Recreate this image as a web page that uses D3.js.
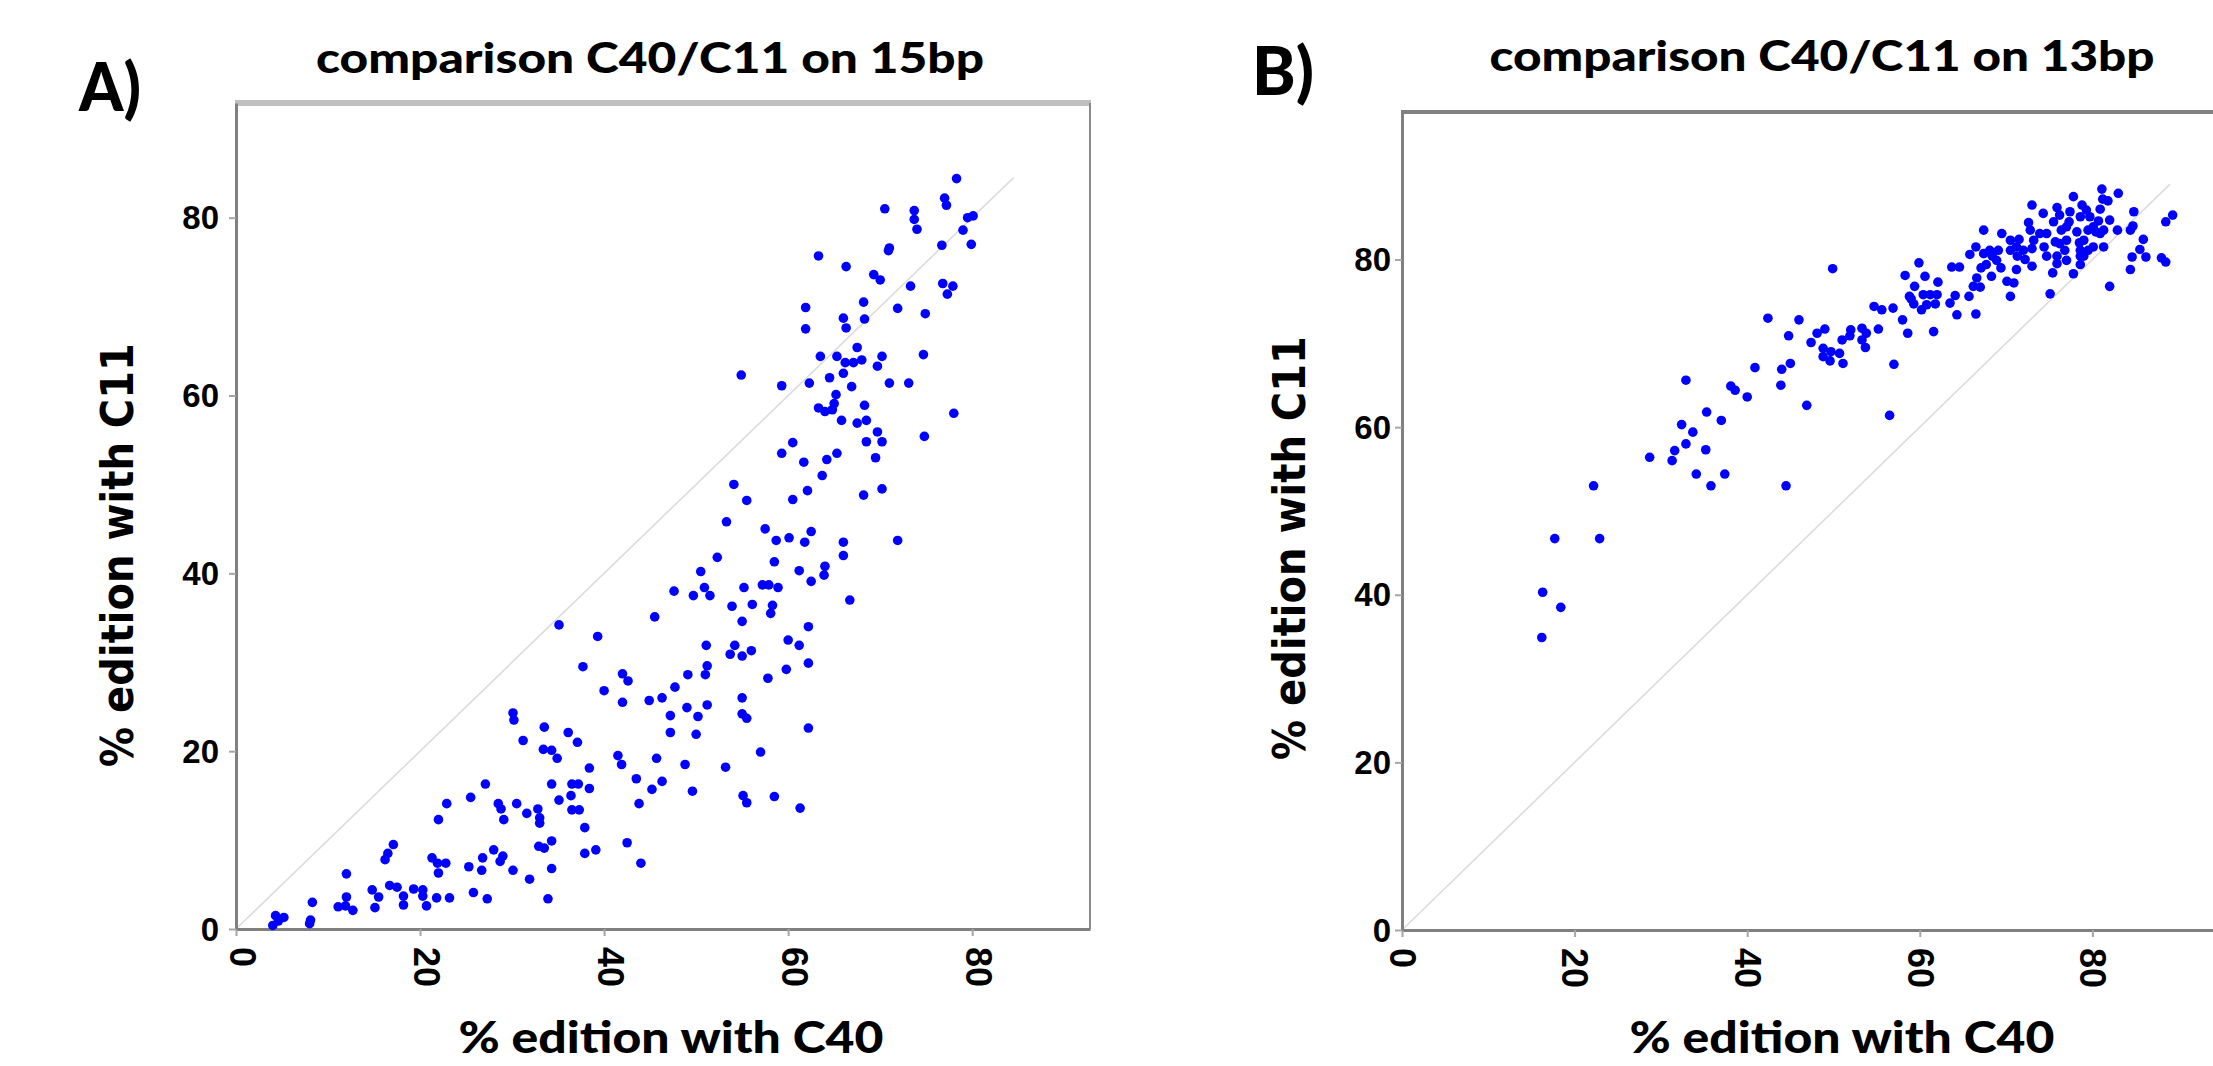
<!DOCTYPE html>
<html>
<head>
<meta charset="utf-8">
<script src="https://cdn.jsdelivr.net/npm/d3@7"></script>
<style>
    body { margin: 0; background: #ffffff; }
</style>
</head>
<body>
<svg id="figure"></svg>
<script>

// Tick values shared by both panels
const xTicks = [0, 20, 40, 60, 80];
const yTicks = [0, 20, 40, 60, 80];

// Text
const titleA = "comparison C40/C11 on 15bp";
const titleB = "comparison C40/C11 on 13bp";
const xTitle = "% edition with C40";
const yTitle = "% edition with C11";

// End of the grey y = x reference line in each panel
const diagA = [0, 84.5];
const diagB = [0, 89];

// Panel A points: [% edition with C40, % edition with C11]
const pointsA = [
    [4.0, 0.4], [4.3, 1.5], [5.2, 1.3], [4.6, 0.9], [8.1, 1.0], [8.3, 3.0], [8.0, 0.6],
    [11.1, 2.5], [12.0, 3.6], [12.0, 6.2], [12.7, 2.1], [11.9, 2.6],
    [14.8, 4.4], [15.1, 2.4], [15.5, 3.6], [16.2, 7.8], [16.5, 8.5], [17.1, 9.5], [16.7, 4.9],
    [17.5, 4.7], [18.2, 3.7], [18.2, 2.7], [19.3, 4.5], [20.3, 4.4], [20.3, 3.7], [20.7, 2.6],
    [21.3, 8.0], [21.9, 7.4], [22.0, 6.3], [22.8, 7.4], [21.8, 3.5], [23.2, 3.5], [22.0, 12.3], [22.9, 14.1],
    [25.3, 7.0], [25.8, 4.1], [25.5, 14.8], [26.7, 6.6], [26.8, 8.0], [27.1, 16.3], [27.3, 3.4],
    [28.0, 8.9], [28.5, 14.1], [28.8, 13.5], [28.7, 7.6], [29.0, 8.2], [29.1, 12.3],
    [30.1, 6.6], [30.1, 24.3], [30.2, 23.5], [30.5, 14.1], [31.2, 21.2], [31.6, 13.0], [31.9, 5.6],
    [32.8, 13.5], [33.0, 12.5], [33.0, 11.9], [32.9, 9.3], [33.5, 22.7], [33.4, 20.2], [33.5, 9.1],
    [33.9, 3.4], [34.3, 20.1], [34.3, 9.9], [34.3, 6.8], [34.3, 16.3], [34.9, 19.2], [35.1, 34.2], [35.1, 14.5],
    [36.1, 22.1], [36.4, 15.0], [36.5, 13.4], [36.5, 16.3], [37.1, 21.0], [37.2, 16.3], [37.3, 13.4],
    [37.7, 29.5], [37.9, 11.4], [37.9, 8.5], [38.4, 18.1], [38.4, 15.8], [39.1, 8.9], [39.3, 32.9],
    [40.0, 26.8], [41.5, 19.5], [41.9, 18.5], [42.0, 28.7], [42.0, 25.5], [42.6, 27.9], [42.5, 9.7],
    [43.5, 16.9], [43.8, 14.1], [44.0, 7.4], [44.9, 25.7], [45.2, 15.7], [45.5, 35.1], [45.7, 19.2],
    [46.3, 26.0], [46.3, 16.6], [47.2, 24.0], [47.2, 22.1], [47.6, 38.0], [47.7, 27.2], [48.8, 18.5],
    [49.0, 24.9], [49.1, 28.6], [49.6, 15.5], [49.7, 37.5],
    [50.0, 21.9], [50.2, 23.9], [50.5, 40.2], [50.9, 38.4], [51.0, 28.6], [51.2, 29.6], [51.1, 31.9],
    [51.2, 25.2], [51.5, 37.5], [52.3, 41.8], [53.2, 18.2], [53.3, 45.8], [53.7, 30.9], [53.9, 36.3], [54.2, 31.9],
    [55.0, 26.0], [55.0, 34.6], [55.0, 30.7], [55.0, 24.2], [55.2, 38.4], [55.1, 15.0], [55.5, 14.2],
    [55.5, 23.7], [56.0, 31.3], [56.1, 36.5], [57.0, 19.9], [57.2, 38.7], [57.5, 45.0], [57.9, 38.7],
    [57.8, 28.2], [58.1, 35.5], [58.3, 36.4], [58.5, 41.3], [58.5, 14.9], [58.7, 43.7], [58.9, 38.4], [59.8, 29.2],
    [60.0, 32.5], [60.1, 44.0], [61.2, 31.9], [61.2, 40.3], [61.3, 13.6], [61.8, 43.5], [62.2, 34.0],
    [62.2, 29.9], [62.2, 22.6], [62.5, 44.7], [62.5, 39.1], [63.9, 39.8], [64.0, 40.8], [66.0, 43.5],
    [66.0, 42.0], [66.7, 37.0], [71.9, 43.7],
    [78.3, 84.4], [77.0, 82.2], [77.2, 81.4], [70.5, 81.0], [73.7, 80.8], [73.7, 79.8], [74.0, 78.7],
    [79.5, 80.0], [80.1, 80.2], [79.0, 78.6], [79.9, 77.0], [76.7, 76.9], [70.9, 76.3], [71.0, 76.6],
    [63.3, 75.7], [66.3, 74.5], [69.3, 73.6], [70.0, 73.0], [73.3, 72.3], [76.8, 72.6], [77.9, 72.3],
    [77.3, 71.4], [68.2, 70.5], [71.9, 69.8], [61.9, 69.9], [74.9, 69.2], [66.0, 68.7], [68.3, 68.6],
    [66.3, 67.6], [61.9, 67.5], [67.5, 65.4], [63.5, 64.4], [65.3, 64.4], [68.0, 64.0], [70.2, 64.4],
    [74.7, 64.6], [66.2, 63.7], [67.1, 63.7], [69.7, 63.3], [66.0, 62.5], [54.9, 62.3], [64.5, 62.0],
    [59.3, 61.1], [62.3, 61.4], [66.9, 61.0], [71.0, 61.4], [73.1, 61.4],
    [65.2, 60.1], [65.0, 59.1], [63.3, 58.6], [64.0, 58.2], [64.8, 58.4], [68.3, 58.9], [78.0, 58.0],
    [65.8, 57.2], [67.5, 56.9], [68.5, 57.2], [69.7, 55.9], [60.5, 54.7], [68.5, 54.8], [70.2, 54.8],
    [74.8, 55.4], [59.3, 53.5], [61.7, 52.5], [64.2, 52.8], [65.3, 53.5], [69.5, 53.0], [63.7, 51.0],
    [54.1, 50.0], [55.5, 48.2], [60.5, 48.3], [62.1, 49.3], [68.2, 48.8], [70.2, 49.5]
];

// Panel B points: [% edition with C40, % edition with C11]
const pointsB = [
    [17.7, 46.7], [22.9, 46.7], [16.3, 40.3], [18.4, 38.5], [16.2, 34.9],
    [22.2, 53.0], [28.7, 56.4], [31.3, 56.0], [31.6, 57.2], [32.9, 58.0], [32.4, 60.3], [33.7, 59.4],
    [35.2, 57.3], [34.1, 54.4], [35.8, 53.0], [37.4, 54.4], [35.3, 61.8], [37.0, 60.8], [32.9, 65.6],
    [38.1, 64.9], [38.6, 64.4], [40.0, 63.6], [40.9, 67.1], [42.4, 73.0], [46.0, 72.8], [44.8, 70.9],
    [44.0, 66.9], [45.0, 67.6], [43.9, 65.0], [46.9, 62.6], [44.5, 53.0], [47.4, 70.1], [48.1, 71.2],
    [49.0, 71.7], [48.8, 69.4], [48.8, 68.4], [49.7, 69.0], [49.6, 67.9], [50.7, 68.8], [51.1, 67.6],
    [51.0, 70.4], [52.0, 71.6], [51.9, 70.9], [53.3, 71.8], [53.8, 71.2], [53.3, 70.4], [53.7, 69.5],
    [55.2, 71.7], [54.7, 74.4], [55.6, 74.0], [56.9, 74.2], [58.0, 72.8], [58.6, 71.2], [57.0, 67.5],
    [56.5, 61.4], [61.6, 71.4], [60.2, 74.0], [61.8, 74.7], [63.5, 74.8], [64.3, 73.4], [59.0, 75.3],
    [60.8, 74.6], [49.9, 78.9],
    [58.8, 75.6], [59.3, 74.7], [60.4, 75.8], [61.2, 75.8], [62.0, 75.8], [59.4, 76.8], [60.6, 78.0],
    [62.1, 77.3], [58.3, 78.1], [59.9, 79.6], [63.7, 79.1], [64.6, 79.1], [64.1, 75.7], [66.5, 73.5],
    [65.7, 75.6], [66.2, 76.8], [67.0, 76.7], [66.6, 77.8], [67.1, 79.0], [67.7, 79.4], [68.3, 78.0],
    [68.4, 80.4], [67.4, 80.7], [65.8, 80.6], [66.5, 81.5], [67.4, 83.5], [69.5, 83.1], [69.4, 79.0],
    [70.5, 75.6], [70.1, 77.4], [70.9, 77.2], [70.5, 81.1], [71.2, 78.8], [70.5, 82.3], [71.5, 82.4],
    [71.3, 80.4], [72.0, 81.1], [72.2, 80.0], [73.0, 79.2], [73.0, 81.3], [72.8, 83.5], [72.6, 84.4],
    [73.0, 86.5], [74.3, 85.5], [73.9, 83.1], [74.4, 81.5], [74.7, 80.4], [75.1, 75.9], [75.4, 78.4],
    [75.9, 79.5], [75.7, 82.1], [75.5, 84.5], [75.9, 86.2], [76.2, 85.3], [76.4, 83.5], [77.0, 82.3],
    [76.8, 81.1], [77.0, 79.9], [77.3, 84.5], [77.8, 78.3], [77.8, 87.5], [77.4, 85.7], [78.2, 83.3],
    [78.5, 82.0], [78.6, 80.4], [78.6, 79.4], [79.0, 80.4], [79.3, 85.9], [79.7, 85.1], [78.8, 86.5],
    [79.5, 83.5], [80.1, 81.5], [80.4, 83.3], [80.7, 84.6], [80.9, 86.0], [81.2, 87.2], [81.1, 88.4],
    [81.8, 87.0], [82.0, 84.7], [81.3, 83.5], [81.3, 81.5], [83.0, 87.9], [82.9, 83.5], [84.8, 85.7],
    [84.7, 84.0], [85.9, 82.4], [84.4, 83.5], [85.5, 81.2], [84.6, 80.3], [86.2, 80.3], [84.4, 78.8],
    [82.0, 76.8], [88.0, 80.2], [88.5, 79.7], [88.5, 84.5], [89.3, 85.3],
    [74.7, 83.1], [76.2, 81.9], [79.0, 82.3], [80.1, 83.9], [77.0, 83.9], [78.6, 85.1], [75.9, 80.4],
    [73.2, 82.3], [71.2, 81.5], [69.1, 81.1], [68.1, 81.1], [68.9, 79.9], [78.6, 81.1], [80.9, 83.1],
    [79.5, 81.1]
];

// Page layout of each panel (pixels)
const panelA = {
    left: 236, right: 1090, top: 103, bottom: 929, xMax: 92.8, yMax: 92.9,
    topColor: "#c0c0c0", topWidth: 6, rightBorder: true,
    yLabelGap: 17, xLabelShift: 6,
    titleX: 650, titleY: 73, titleLen: 668,
    tagText: "A)", tagX: 79, tagY: 111,
    xTitleX: 671, xTitleY: 1053,
    yTitleX: 133, yTitleY: 555
};
const panelB = {
    left: 1402, right: 2265, top: 112, bottom: 930, xMax: 100, yMax: 97.6,
    topColor: "#808080", topWidth: 4, rightBorder: false,
    yLabelGap: 11, xLabelShift: 0,
    titleX: 1822, titleY: 71, titleLen: 665,
    tagText: "B)", tagX: 1252, tagY: 95,
    xTitleX: 1842, xTitleY: 1053,
    yTitleX: 1305, yTitleY: 548
};

const width = 2213;
const height = 1066;
const titleFont = "Lato, 'Open Sans', sans-serif";
const tickFont = "'Liberation Sans', Arial, sans-serif";

const svg = d3.select("#figure")
    .attr("width", width)
    .attr("height", height);

svg.append("rect")
    .attr("width", width)
    .attr("height", height)
    .attr("fill", "#ffffff");

/**
 * drawPanel
 *
 * Draws one scatter panel: frame, axes, y = x line, points and texts.
 * @param p layout object of the panel
 * @param points array of [x, y] pairs
 * @param diag [start, end] of the reference line
 * @param title chart title
 */
function drawPanel(p, points, diag, title) {

    let x = d3.scaleLinear()
        .domain([0, p.xMax])
        .range([p.left, p.right]);

    let y = d3.scaleLinear()
        .domain([0, p.yMax])
        .range([p.bottom, p.top]);

    let g = svg.append("g");

    // Top border (and right border for panel A)
    g.append("line")
        .attr("x1", p.left - 1)
        .attr("x2", p.right + 1)
        .attr("y1", p.top)
        .attr("y2", p.top)
        .attr("stroke", p.topColor)
        .attr("stroke-width", p.topWidth);

    if (p.rightBorder) {
        g.append("line")
            .attr("x1", p.right)
            .attr("x2", p.right)
            .attr("y1", p.top)
            .attr("y2", p.bottom)
            .attr("stroke", "#8a8a8a")
            .attr("stroke-width", 2);
    }

    // y = x reference line
    g.append("line")
        .attr("x1", x(diag[0]))
        .attr("y1", y(diag[0]))
        .attr("x2", x(diag[1]))
        .attr("y2", y(diag[1]))
        .attr("stroke", "#dcdcdc")
        .attr("stroke-width", 1.6);

    // x axis
    let xAxis = g.append("g")
        .attr("transform", `translate(0, ${p.bottom})`)
        .call(d3.axisBottom(x).tickValues(xTicks).tickSize(7).tickSizeOuter(0));
    xAxis.select(".domain")
        .attr("stroke", "#808080")
        .attr("stroke-width", 3);
    xAxis.selectAll(".tick line")
        .attr("stroke", "#a6a6a6")
        .attr("stroke-width", 2);
    xAxis.selectAll(".tick text")
        .attr("transform", "rotate(90)")
        .attr("x", 18)
        .attr("y", -p.xLabelShift)
        .attr("dy", "0.35em")
        .attr("text-anchor", "start")
        .attr("fill", "#000")
        .style("font-family", tickFont)
        .style("font-weight", "bold")
        .style("font-size", "36px");

    // y axis
    let yAxis = g.append("g")
        .attr("transform", `translate(${p.left}, 0)`)
        .call(d3.axisLeft(y).tickValues(yTicks).tickSize(7).tickSizeOuter(0));
    yAxis.select(".domain")
        .attr("stroke", "#808080")
        .attr("stroke-width", 3);
    yAxis.selectAll(".tick line")
        .attr("stroke", "#a6a6a6")
        .attr("stroke-width", 2);
    yAxis.selectAll(".tick text")
        .attr("x", -p.yLabelGap)
        .attr("dy", "0.34em")
        .attr("fill", "#000")
        .style("font-family", tickFont)
        .style("font-weight", "bold")
        .style("font-size", "33px");

    // Points
    g.append("g")
        .selectAll("circle")
        .data(points)
        .enter()
        .append("circle")
        .attr("cx", d => x(d[0]))
        .attr("cy", d => y(d[1]))
        .attr("r", 4.8)
        .attr("fill", "#0000ff");

    // Title
    g.append("text")
        .attr("x", p.titleX)
        .attr("y", p.titleY)
        .attr("text-anchor", "middle")
        .attr("textLength", p.titleLen)
        .attr("lengthAdjust", "spacingAndGlyphs")
        .style("font-family", titleFont)
        .style("font-weight", "900")
        .style("font-size", "42px")
        .text(title);

    // Panel tag
    g.append("text")
        .attr("x", p.tagX)
        .attr("y", p.tagY)
        .attr("textLength", 62)
        .attr("lengthAdjust", "spacingAndGlyphs")
        .style("font-family", titleFont)
        .style("font-weight", "900")
        .style("font-size", "66px")
        .text(p.tagText);

    // x axis title
    g.append("text")
        .attr("x", p.xTitleX)
        .attr("y", p.xTitleY)
        .attr("text-anchor", "middle")
        .attr("textLength", 425)
        .attr("lengthAdjust", "spacingAndGlyphs")
        .style("font-family", titleFont)
        .style("font-weight", "900")
        .style("font-size", "43px")
        .text(xTitle);

    // y axis title
    g.append("text")
        .attr("transform", `translate(${p.yTitleX}, ${p.yTitleY}) rotate(-90)`)
        .attr("text-anchor", "middle")
        .attr("textLength", 424)
        .attr("lengthAdjust", "spacingAndGlyphs")
        .style("font-family", "'DejaVu Sans', Verdana, sans-serif")
        .style("font-weight", "bold")
        .style("font-size", "44px")
        .text(yTitle);
}

drawPanel(panelA, pointsA, diagA, titleA);
drawPanel(panelB, pointsB, diagB, titleB);

</script>
</body>
</html>
